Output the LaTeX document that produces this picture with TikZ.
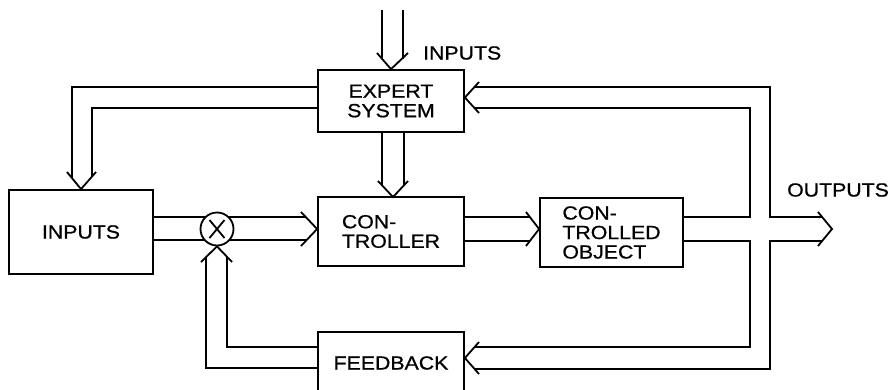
\documentclass[tikz,border=0pt]{standalone}
\usepackage{fontspec}
\setmainfont{Liberation Sans}[FakeStretch=1.12,FakeBold=0.8]
\begin{document}
\begin{tikzpicture}[x=1pt,y=-1pt,
  box/.style={draw, line width=1.8pt, inner sep=0pt, align=center,
    font=\fontsize{19}{19.5}\selectfont},
  lbl/.style={font=\fontsize{19}{19.5}\selectfont, inner sep=0pt},
  wire/.style={line width=1.8pt, line join=miter},
  chev/.style={line width=1.8pt, line join=miter}]
\useasboundingbox (0,0) rectangle (888,389);
\clip (0,0) rectangle (888,389);

% boxes
\node[box, minimum width=144pt, minimum height=84pt] (inp) at (81,232) {INPUTS};
\node[box, minimum width=146pt, minimum height=62pt] (exp) at (391,101) {EXPERT\\SYSTEM};
\node[box, minimum width=146pt, minimum height=69pt, align=left] (ctl) at (391,231.5) {CON-\\TROLLER};
\node[box, minimum width=143pt, minimum height=69pt, align=left] (obj) at (611.5,232.5) {CON-\\TROLLED\\OBJECT};
\node[box, minimum width=146pt, minimum height=62pt] (fb) at (391,363) {FEEDBACK};
\node[draw, circle, line width=1.8pt, minimum size=33pt, inner sep=0pt] (mix) at (217,229) {};
\draw[wire] ([shift={(-7.5,-9)}]mix.center) -- ([shift={(7.5,9)}]mix.center);
\draw[wire] ([shift={(7.5,-9)}]mix.center) -- ([shift={(-7.5,9)}]mix.center);

% labels
\node[lbl, anchor=west] (tin) at (423,53) {INPUTS};
\node[lbl, anchor=west] (tout) at (787,190) {OUTPUTS};

% top inputs into expert system
\coordinate (topA) at (382,10);
\coordinate (topB) at (403,10);
\draw[wire] (topA) -- (382,59);
\draw[wire] (topB) -- (403,59);
\draw[chev] (377,53) -- (exp.north) -- (408,53);

% expert system -> inputs box
\draw[wire] (exp.west |- 0,87) -- (72,87) -- (72,178);
\draw[wire] (exp.west |- 0,108) -- (92,108) -- (92,177);
\draw[chev] (67,172) -- (inp.north) -- (96,172);

% expert system -> controller
\draw[wire] (exp.south -| 382,0) -- (382,186);
\draw[wire] (exp.south -| 404,0) -- (404,186);
\draw[chev] (378,181) -- (393,197) -- (408,181);

% inputs -> mixer
\draw[wire] (inp.east |- 0,217) -- (206.4,217);
\draw[wire] (inp.east |- 0,240) -- (205.4,240);
% mixer -> controller
\draw[wire] (227.6,217) -- (306,217);
\draw[wire] (228.6,240) -- (307,240);
\draw[chev] (301,212) -- (ctl.west |- mix) -- (301,246);

% controller -> controlled object
\draw[wire] (ctl.east |- 0,217) -- (530,217);
\draw[wire] (ctl.east |- 0,241) -- (530,241);
\draw[chev] (526,212) -- (obj.west |- mix) -- (526,246);

% controlled object outputs
\draw[wire] (obj.east |- 0,217) -- (750,217) -- (750,108) -- (474,108);
\draw[wire] (obj.east |- 0,241) -- (750,241) -- (750,347) -- (474,347);
\draw[chev] (479,82) -- (exp.east |- 0,97.5) -- (479,113);
\draw[chev] (479,342) -- (fb.east |- 0,358) -- (479,374);

% outer loop and outputs
\coordinate (oarrow) at (832,229);
\draw[wire] (474,87) -- (770,87) -- (770,217) -- (822,217);
\draw[wire] (474,369) -- (770,369) -- (770,241) -- (822,241);
\draw[chev] (818,212) -- (oarrow) -- (818,246);

% feedback -> mixer
\draw[wire] (fb.west |- 0,347) -- (227,347) -- (227,257);
\draw[wire] (fb.west |- 0,368) -- (206,368) -- (206,257);
\draw[chev] (201,262) -- (mix.south) -- (232,262);
\end{tikzpicture}
\end{document}
